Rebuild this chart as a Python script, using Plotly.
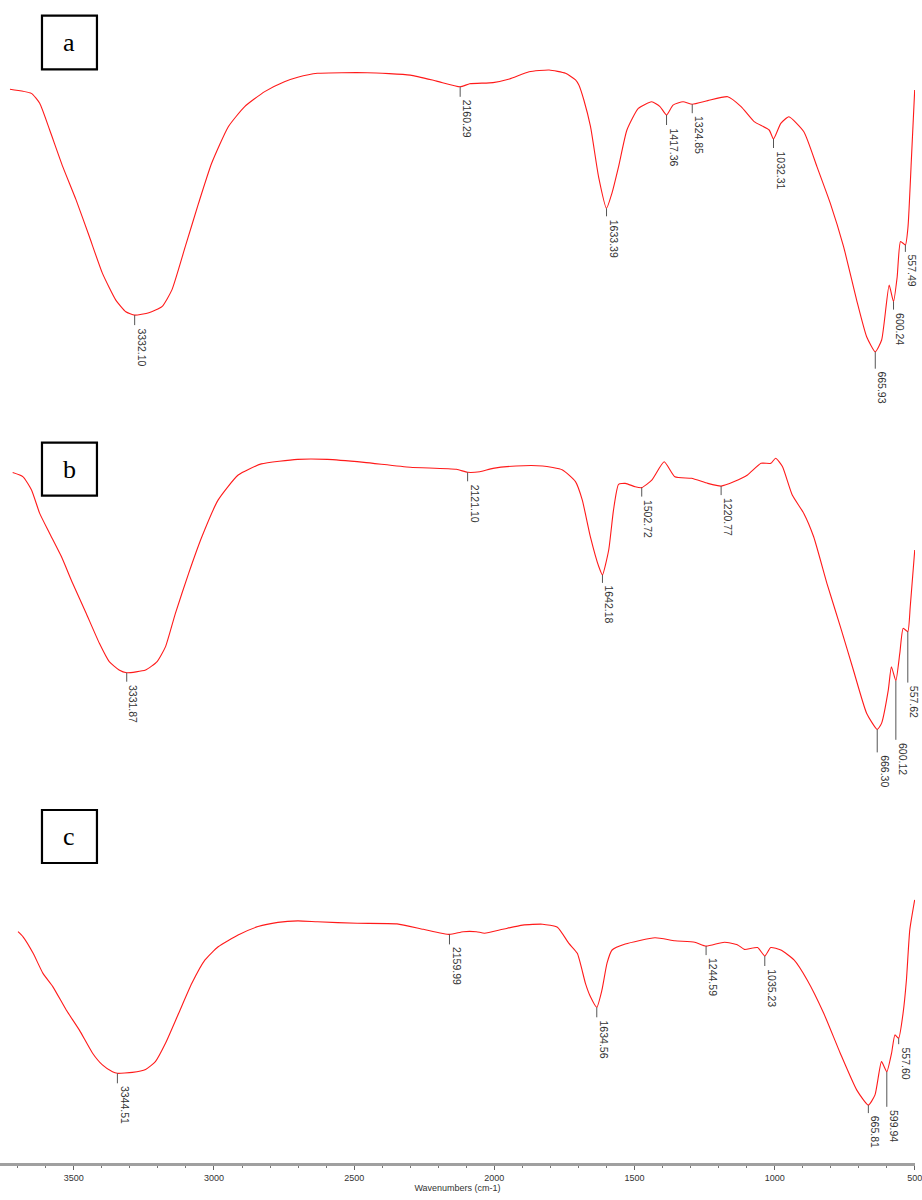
import plotly.graph_objects as go

# ---------------- data (wavenumber cm-1, relative transmittance) ----------------
wn_a = [3781, 3704, 3674, 3638, 3591, 3543, 3495, 3448, 3400, 3364, 3332.10, 3281, 3234, 3198,
        3150, 3102, 3055, 2995, 2936, 2864, 2793, 2745, 2674, 2495, 2340, 2245, 2160.29, 2126,
        2042, 1983, 1912, 1840, 1781, 1745, 1733, 1715, 1691, 1662, 1633.39, 1614, 1590, 1560,
        1519, 1471, 1441, 1417.36, 1394, 1358, 1324.85, 1269, 1197, 1149, 1102, 1048, 1032.31,
        1006, 977, 923, 876, 828, 780, 733, 697, 665.93, 643, 616, 600.24, 587, 575, 557.49,
        548, 536, 524]
T_a = [93.6, 92.2, 88.9, 80.0, 67.8, 56.7, 44.4, 32.2, 23.3, 19.4, 18.3, 19.1, 21.1, 26.7,
       41.1, 55.6, 68.9, 81.1, 87.8, 92.8, 96.1, 97.6, 98.9, 99.1, 98.3, 96.3, 94.4, 95.4,
       95.8, 97.0, 99.4, 100.0, 98.9, 96.7, 95.0, 90.0, 81.1, 64.4, 53.9, 58.9, 67.8, 80.0,
       87.2, 89.4, 87.8, 85.0, 88.3, 89.4, 88.6, 89.8, 91.1, 87.8, 82.8, 80.0, 77.0,
       82.2, 84.4, 79.4, 67.8, 55.6, 41.1, 23.3, 11.1, 6.1, 10.0, 28.3, 22.8, 31.1, 42.8, 41.7,
       47.8, 70.0, 93.3]

wn_b = [3737, 3700, 3670, 3641, 3606, 3564, 3524, 3476, 3429, 3394, 3359, 3331.87, 3265, 3224,
        3194, 3159, 3112, 3065, 3007, 2936, 2854, 2725, 2619, 2489, 2325, 2161, 2121.10, 2078,
        2031, 1949, 1855, 1784, 1738, 1714, 1685, 1655, 1642.18, 1620, 1603, 1585, 1561, 1526,
        1502.72, 1467, 1423, 1385, 1326, 1268, 1220.77, 1174, 1127, 1079, 1044, 1027, 1003,
        968, 927, 892, 845, 797, 751, 704, 666.30, 651, 627, 616, 600.12, 586, 574, 557.62,
        549, 533]
T_b = [95.8, 94.4, 90.0, 82.2, 75.6, 67.8, 58.9, 48.9, 38.9, 32.8, 30.0, 29.1, 30.0, 32.8,
       37.8, 48.9, 62.2, 74.4, 86.7, 95.0, 98.7, 100.2, 100.2, 99.2, 97.6, 96.9, 95.9, 96.1,
       97.2, 98.0, 98.0, 96.7, 92.8, 86.7, 74.4, 64.4, 61.7, 70.0, 83.3, 91.9, 92.2, 91.1,
       90.8, 93.3, 99.4, 94.4, 93.9, 92.2, 91.3, 92.8, 95.0, 98.9, 98.9, 100.6, 97.8,
       88.3, 82.2, 74.4, 58.9, 44.4, 30.0, 15.6, 10.2, 12.2, 23.3, 31.1, 26.4, 35.6, 43.9, 42.8,
       51.1, 70.0]

wn_c = [3699, 3681, 3645, 3610, 3575, 3527, 3480, 3433, 3398, 3362, 3344.51, 3291, 3244, 3209,
        3173, 3126, 3079, 3032, 2985, 2914, 2843, 2772, 2701, 2631, 2489, 2347, 2253, 2159.99,
        2111, 2064, 2035, 1970, 1899, 1828, 1775, 1734, 1704, 1675, 1657, 1634.56, 1616, 1598,
        1580, 1533, 1427, 1356, 1285, 1244.59, 1179, 1132, 1108, 1061, 1035.23, 1014, 978, 931,
        884, 825, 766, 707, 665.81, 642, 619, 599.94, 583, 571, 557.60, 542, 530, 518, 500.5]
T_c = [77.1, 75.4, 69.9, 63.2, 58.8, 51.0, 44.3, 36.6, 32.7, 30.4, 29.9, 30.2, 31.2, 33.8,
       39.9, 49.9, 59.9, 67.7, 72.1, 76.0, 78.8, 80.2, 80.7, 80.4, 79.9, 79.7, 77.9, 76.2,
       77.1, 77.1, 76.6, 77.9, 79.3, 79.6, 78.6, 73.2, 69.9, 59.9, 55.4, 51.9, 57.7, 66.6,
       71.0, 73.0, 75.1, 74.1, 73.6, 72.3, 73.6, 72.7, 71.2, 71.8, 69.0, 71.8, 71.0, 67.7,
       61.0, 49.9, 36.6, 24.3, 19.3, 22.7, 33.8, 30.4, 36.6, 42.7, 41.6, 49.9, 61.0, 77.7, 87.7]

peaks_a = [3332.10, 2160.29, 1633.39, 1417.36, 1324.85, 1032.31, 665.93, 600.24, 557.49]
peakT_a = [18.3, 94.4, 53.9, 85.0, 88.6, 77.0, 6.1, 22.8, 41.7]
peaks_b = [3331.87, 2121.10, 1642.18, 1502.72, 1220.77, 666.30, 600.12, 557.62]
peakT_b = [29.1, 95.9, 61.7, 90.8, 91.3, 10.2, 26.4, 42.8]
peaks_c = [3344.51, 2159.99, 1634.56, 1244.59, 1035.23, 665.81, 599.94, 557.60]
peakT_c = [29.9, 76.2, 51.9, 72.3, 69.0, 19.3, 30.4, 41.6]

panel_labels = ["a", "b", "c"]
x_ticks = [3500, 3000, 2500, 2000, 1500, 1000, 500]
x_title = "Wavenumbers (cm-1)"

# ---------------- styles ----------------
W, H = 922, 1200
ticklen_a = [10, 10, 8, 10, 9, 9, 17, 8, 7]
ticklen_b = [9, 9, 8, 9, 9, 23, 59, 51]
ticklen_c = [10, 10, 10, 9, 10, 8, 35, 6]

panels = [
    (wn_a, T_a, peaks_a, peakT_a, ticklen_a, "x2", "y2", [3816.9, 522.9], (40, 370)),
    (wn_b, T_b, peaks_b, peakT_b, ticklen_b, "x3", "y3", [3782.0, 532.1], (430, 760)),
    (wn_c, T_c, peaks_c, peakT_c, ticklen_c, "x", "y", [3763.3, 499.4], (833, 1163)),
]
boxes_px = [(42.3, 15.7, 97.7, 69.3), (42.3, 442.7, 97.7, 495.7), (42.3, 810, 97.7, 863)]

fig = go.Figure()
shapes = []
annotations = []
layout_axes = {}

RED = "#ff1a1a"
for (xs, ys, pk, pT, tl, xa, ya, xr, (ptop, pbot)) in panels:
    fig.add_trace(go.Scatter(x=xs, y=ys, mode="lines", xaxis=xa, yaxis=ya,
                             line=dict(color=RED, width=1.1, shape="spline", smoothing=0.5),
                             hoverinfo="skip", showlegend=False))
    xkey = "xaxis" if xa == "x" else "xaxis" + xa[1:]
    ykey = "yaxis" if ya == "y" else "yaxis" + ya[1:]
    dom = [1 - pbot / H, 1 - ptop / H]
    visible = (xa == "x")
    layout_axes[xkey] = dict(domain=[0, 1], range=xr, anchor=ya, visible=visible,
                             showgrid=False, zeroline=False)
    layout_axes[ykey] = dict(domain=dom, range=[0, 110], anchor=xa, visible=False,
                             showgrid=False, zeroline=False)
    for w, t, L in zip(pk, pT, tl):
        shapes.append(dict(type="line", xref=xa, yref=ya, x0=w, x1=w,
                           ysizemode="pixel", yanchor=t, y0=0, y1=-L,
                           line=dict(color="#555555", width=1)))
        annotations.append(dict(x=w, y=t, xref=xa, yref=ya, text=f"{w:.2f}",
                                showarrow=False, textangle=90, xanchor="left",
                                yanchor="top", yshift=-(L + 2), borderpad=0,
                                font=dict(family="Liberation Sans, Arial", size=10.5,
                                          color="#333333")))

for lab, (x0, y0, x1, y1) in zip(panel_labels, boxes_px):
    shapes.append(dict(type="rect", xref="paper", yref="paper",
                       x0=x0 / W, x1=x1 / W, y0=1 - y1 / H, y1=1 - y0 / H,
                       line=dict(color="black", width=2.2)))
    annotations.append(dict(x=(x0 + x1) / 2 / W, y=1 - (y0 + y1) / 2 / H, xref="paper",
                            yref="paper", text=lab, showarrow=False,
                            xanchor="center", yanchor="middle",
                            font=dict(family="Liberation Serif, Times New Roman", size=26,
                                      color="black")))

layout_axes["xaxis"].update(dict(
    tickmode="array", tickvals=x_ticks, ticktext=[str(v) for v in x_ticks],
    ticks="outside", ticklen=4, tickcolor="#666666", tickwidth=1,
    showline=True, linecolor="#a0a0a0", linewidth=3,
    minor=dict(dtick=100, ticks="outside", ticklen=2, tickcolor="#777777", showgrid=False),
    tickfont=dict(family="Liberation Sans, Arial", size=9, color="#333333"),
    ticklabeloverflow="allow",
    title=dict(text=x_title, standoff=2,
               font=dict(family="Liberation Sans, Arial", size=9, color="#333333")),
))

fig.update_layout(
    width=W, height=H,
    margin=dict(l=0, r=0, t=0, b=0),
    paper_bgcolor="white", plot_bgcolor="white",
    shapes=shapes, annotations=annotations,
    showlegend=False,
    **layout_axes,
)

fig.write_html("out.html",
               post_script="document.body.style.margin='0';document.body.style.overflow='hidden';",
               config={"displayModeBar": False})
